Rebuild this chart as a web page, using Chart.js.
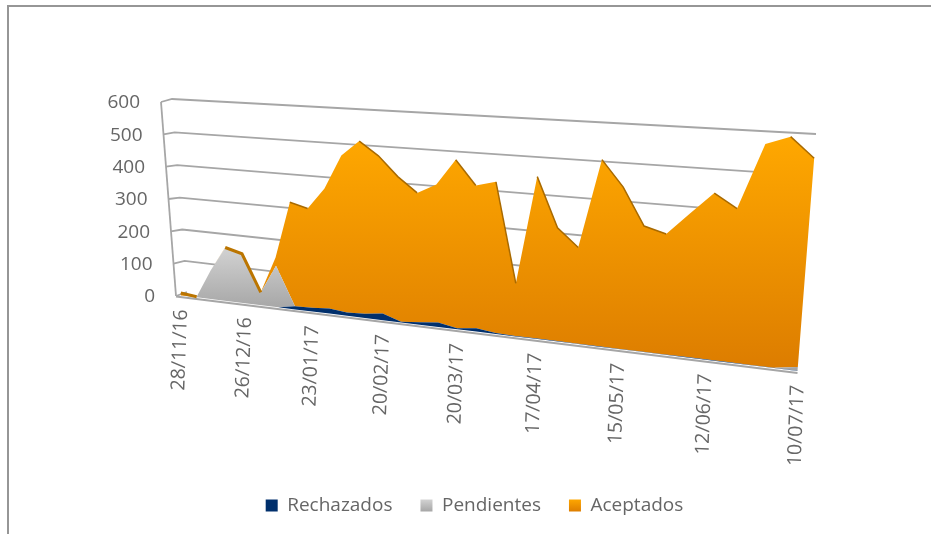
<!DOCTYPE html>
<html>
<head>
<meta charset="utf-8">
<style>html,body{margin:0;padding:0;background:#fff;overflow:hidden}canvas{display:block}</style>
<script src="https://cdn.jsdelivr.net/npm/chart.js@4"></script>
</head>
<body>
<canvas id="c" width="931" height="534"></canvas>
<script>
const weeks = ['28/11/16','05/12/16','12/12/16','19/12/16','26/12/16','02/01/17','09/01/17','16/01/17','23/01/17','30/01/17','06/02/17','13/02/17','20/02/17','27/02/17','06/03/17','13/03/17','20/03/17','27/03/17','03/04/17','10/04/17','17/04/17','24/04/17','01/05/17','08/05/17','15/05/17','22/05/17','29/05/17','05/06/17','12/06/17','19/06/17','26/06/17','03/07/17','10/07/17'];
const rechazados = [0,0,0,0,0,0,0,10,12,16,10,13,20,2,7,13,3,10,3,1,2,2,1,1,1,1,1,1,1,1,1,1,1];
const pendientes = [0,2,92,169,155,40,130,0,0,0,0,0,0,0,0,0,0,0,0,0,0,0,0,0,0,0,0,0,0,0,0,0,10];
const aceptados  = [8,0,0,1,1,1,25,317,301,360,465,506,461,424,377,399,481,407,428,152,451,317,269,508,440,342,326,384,441,406,571,592,533];
const yTicks = [0,100,200,300,400,500,600];
const labelEvery = 4;

// perspective planes (pixel corners of the 3D view)
function homography(p0,p1,p2,p3){
  const dx1=p1[0]-p2[0],dx2=p3[0]-p2[0],sx=p0[0]-p1[0]+p2[0]-p3[0];
  const dy1=p1[1]-p2[1],dy2=p3[1]-p2[1],sy=p0[1]-p1[1]+p2[1]-p3[1];
  const det=dx1*dy2-dx2*dy1;
  const g=(sx*dy2-dx2*sy)/det,h=(dx1*sy-sx*dy1)/det;
  const a=p1[0]-p0[0]+g*p1[0],b=p3[0]-p0[0]+h*p3[0],c=p0[0];
  const d=p1[1]-p0[1]+g*p1[1],e=p3[1]-p0[1]+h*p3[1],f=p0[1];
  return (s,t)=>{const w=g*s+h*t+1;return [(a*s+b*t+c)/w,(d*s+e*t+f)/w];};
}
const front = homography([181,295.4],[797.5,371],[816,135],[166,102.4]);
const wall  = homography([187,292],[801,373],[816,134],[172,99]);
const side  = (t)=>[176-15*t,296-194*t];

const GRID='#a6a6a6', TXT='#666666', FONT='"Open Sans", sans-serif';

const perspective = {
  id:'perspective',
  afterDatasetsUpdate(chart){
    const X=chart.scales.x,Y=chart.scales.y;
    chart.data.datasets.forEach((d,i)=>{
      chart.getDatasetMeta(i).data.forEach(pt=>{
        const s=(pt.x-X.left)/(X.right-X.left), t=(Y.bottom-pt.y)/(Y.bottom-Y.top);
        const q=front(s,t); pt.x=q[0]; pt.y=q[1];
      });
    });
  },
  beforeDraw(chart){
    const c=chart.ctx,Y=chart.scales.y;
    c.save();
    c.fillStyle='#fff';c.fillRect(0,0,931,534);
    // outer frame
    c.strokeStyle='#969696';c.lineWidth=2;
    c.beginPath();c.moveTo(8,534);c.lineTo(8,6);c.lineTo(931,6);c.stroke();
    // walls and grid
    c.strokeStyle=GRID;c.lineWidth=1.8;
    yTicks.forEach(v=>{
      const t=(Y.bottom-Y.getPixelForValue(v))/(Y.bottom-Y.top);
      const a=side(t),b=wall(0,t),e=wall(v===600?1:0.97,t);
      c.beginPath();c.moveTo(a[0],a[1]);c.lineTo(b[0],b[1]);
      if(v!==0)c.lineTo(e[0],e[1]);
      c.stroke();
      c.fillStyle=TXT;c.font='19px '+FONT;c.textAlign='right';c.textBaseline='middle';
      c.fillText(String(v),a[0]-21,a[1]+1);
    });
    const s0=side(0),s1=side(1);
    c.beginPath();c.moveTo(s0[0],s0[1]);c.lineTo(s1[0],s1[1]);c.stroke();
    c.restore();
  },
  beforeDatasetsDraw(chart){
    const c=chart.ctx;
    const pts=i=>chart.getDatasetMeta(i).data;
    const poly=(upper,lower,fill)=>{
      c.beginPath();
      upper.forEach((p,i)=>i?c.lineTo(p.x,p.y):c.moveTo(p.x,p.y));
      for(let i=lower.length-1;i>=0;i--)c.lineTo(lower[i].x,lower[i].y);
      c.closePath();c.fillStyle=fill;c.fill();
    };
    const floor=weeks.map((w,i)=>{const q=front(i/(weeks.length-1),0);return {x:q[0],y:q[1]};});
    c.save();
    // floor line
    c.strokeStyle=GRID;c.lineWidth=2;
    c.beginPath();c.moveTo(176,296.5);c.lineTo(797.5,373);c.stroke();
    const go=c.createLinearGradient(0,135,0,372);go.addColorStop(0,'#ffa800');go.addColorStop(1,'#dc7c00');
    const gg=c.createLinearGradient(0,245,0,312);gg.addColorStop(0,'#d4d4d4');gg.addColorStop(1,'#a4a4a4');
    poly(pts(2),pts(1),go);
    poly(pts(1),pts(0),gg);
    poly(pts(0),floor,'#002f6c');
    c.restore();
  },
  afterDraw(chart){
    const c=chart.ctx;
    c.save();
    c.fillStyle=TXT;c.font='19.5px '+FONT;c.textAlign='right';c.textBaseline='middle';
    weeks.forEach((w,i)=>{
      if(i%labelEvery)return;
      const q=front(i/(weeks.length-1),0);
      c.save();c.translate(q[0]+0.5,q[1]+14);c.rotate(-88*Math.PI/180);c.fillText(w,0,0);c.restore();
    });
    c.restore();
  }
};

const edge = {
  borderColor: ctx => ctx.p1.y > ctx.p0.y + 0.5 ? (ctx.p0DataIndex < 6 ? '#bb7500' : '#a96a00') : 'rgba(0,0,0,0)',
  borderWidth: ctx => ctx.p0DataIndex < 6 ? 3 : 1.5
};
const seriesColors = ['#002f6c','#b4b4b4','#f09000'];

new Chart(document.getElementById('c'),{
  type:'line',
  plugins:[perspective],
  data:{labels:weeks,datasets:[
    {label:'Rechazados',data:rechazados,backgroundColor:seriesColors[0],borderColor:'rgba(0,0,0,0)',borderWidth:0,fill:false,pointRadius:0,tension:0,clip:false},
    {label:'Pendientes',data:pendientes,backgroundColor:seriesColors[1],borderColor:'rgba(0,0,0,0)',borderWidth:0,fill:false,pointRadius:0,tension:0,clip:false},
    {label:'Aceptados',data:aceptados,backgroundColor:seriesColors[2],borderColor:'#a96a00',borderWidth:2,fill:false,pointRadius:0,tension:0,clip:false,segment:edge}
  ]},
  options:{
    responsive:false,animation:false,events:[],
    layout:{padding:{left:18,right:0,top:0,bottom:9}},
    scales:{
      x:{type:'category',display:false,stacked:true,offset:false},
      y:{display:false,stacked:true,min:0,max:600,ticks:{stepSize:100}}
    },
    plugins:{
      tooltip:{enabled:false},
      legend:{display:true,position:'bottom',labels:{
        font:{family:'"Open Sans", sans-serif',size:19},color:'#666666',boxWidth:12,boxHeight:12,padding:28,
        generateLabels(chart){
          const c=chart.ctx;
          const grad=(a,b)=>{const g=c.createLinearGradient(0,499,0,512);g.addColorStop(0,a);g.addColorStop(1,b);return g;};
          const fills=['#002f6c',grad('#d4d4d4','#a4a4a4'),grad('#ffa800','#dc7c00')];
          return chart.data.datasets.map((d,i)=>({text:d.label,fillStyle:fills[i],strokeStyle:'rgba(0,0,0,0)',lineWidth:0,datasetIndex:i,fontColor:'#666666'}));
        }
      }}
    }
  }
});
</script>
</body>
</html>
